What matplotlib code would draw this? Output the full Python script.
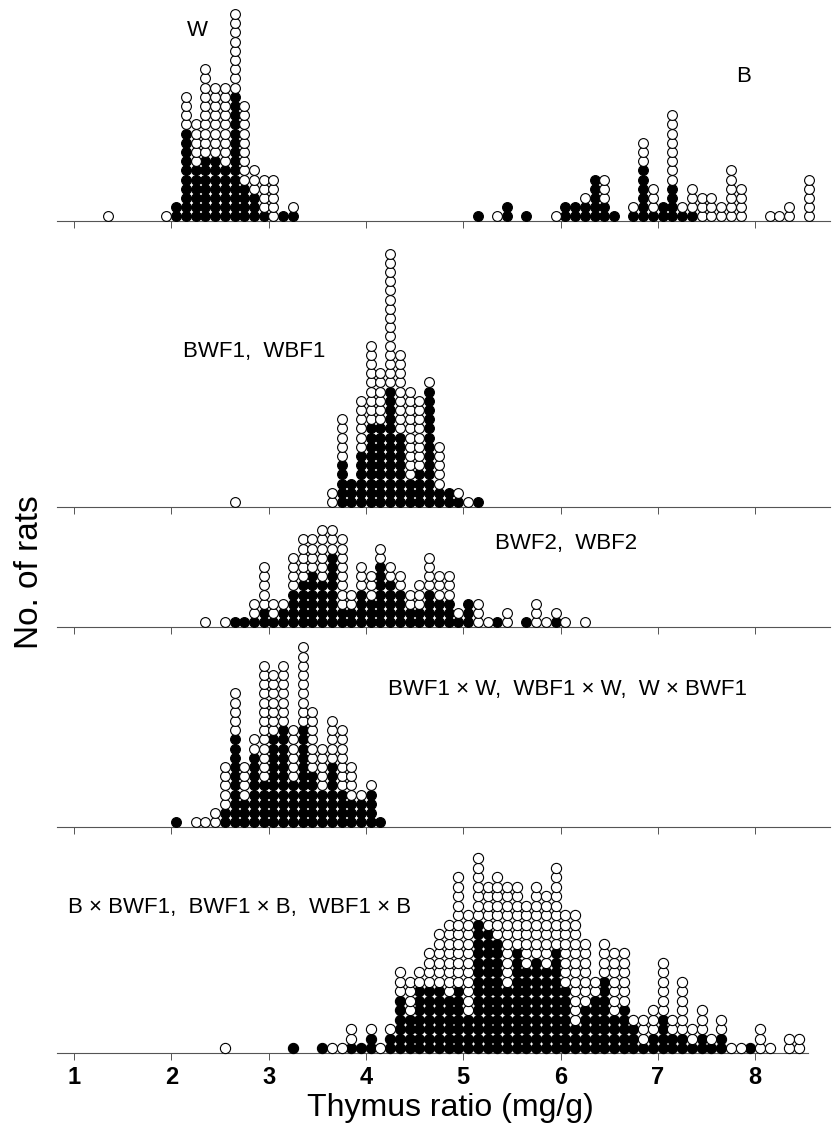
import matplotlib
matplotlib.use("Agg")
import matplotlib.pyplot as plt
import numpy as np

plt.rcParams["font.family"] = ["Liberation Sans", "DejaVu Sans"]

################################################################################
# data: one dot per rat, columns of 0.1 mg/g, black dots stacked below white

# panel 1, parental strains W and B
P1_X = [1.35, 1.95, 2.05, 2.15, 2.25, 2.35, 2.45, 2.55, 2.65, 2.75, 2.85, 2.95,
        3.05, 3.15, 3.25,
        5.15, 5.35, 5.45, 5.65, 5.95, 6.05, 6.15, 6.25, 6.35, 6.45, 6.55, 6.75,
        6.85, 6.95, 7.05, 7.15, 7.25, 7.35, 7.45, 7.55, 7.65, 7.75, 7.85, 8.15,
        8.25, 8.35, 8.55]
P1_BLACK = [0, 0, 2, 10, 6, 7, 7, 6, 14, 4, 3, 1, 0, 1, 1,
            1, 0, 2, 1, 0, 2, 2, 2, 5, 2, 1, 1, 6, 1, 2, 4, 1, 1, 0, 0, 0, 0, 0,
            0, 0, 0, 0]
P1_WHITE = [1, 1, 0, 4, 5, 10, 8, 9, 9, 9, 3, 4, 5, 0, 1,
            0, 1, 0, 0, 1, 0, 0, 1, 0, 3, 0, 1, 3, 3, 0, 8, 1, 3, 3, 3, 2, 6, 4,
            1, 1, 2, 5]

# panel 2, BWF1 / WBF1
P2_X = [2.65, 3.65, 3.75, 3.85, 3.95, 4.05, 4.15, 4.25, 4.35, 4.45, 4.55, 4.65,
        4.75, 4.85, 4.95, 5.05, 5.15]
P2_BLACK = [0, 0, 5, 3, 6, 9, 9, 13, 8, 3, 4, 13, 2, 2, 1, 0, 1]
P2_WHITE = [1, 2, 5, 0, 6, 9, 6, 15, 9, 10, 8, 1, 5, 0, 1, 1, 0]

# panel 3, BWF2 / WBF2
P3_X = [2.35, 2.55, 2.65, 2.75, 2.85, 2.95, 3.05, 3.15, 3.25, 3.35, 3.45, 3.55,
        3.65, 3.75, 3.85, 3.95, 4.05, 4.15, 4.25, 4.35, 4.45, 4.55, 4.65, 4.75,
        4.85, 4.95, 5.05, 5.15, 5.25, 5.35, 5.45, 5.65, 5.75, 5.85, 5.95, 6.05,
        6.25]
P3_BLACK = [0, 0, 1, 1, 1, 2, 1, 2, 4, 5, 6, 5, 8, 2, 2, 4, 3, 7, 5, 4, 2, 2,
            4, 3, 3, 1, 3, 0, 0, 1, 0, 1, 0, 0, 1, 0, 0]
P3_WHITE = [1, 1, 0, 0, 2, 5, 2, 1, 4, 5, 4, 6, 3, 8, 2, 3, 3, 2, 2, 2, 2, 3,
            4, 3, 3, 1, 0, 3, 1, 0, 2, 0, 3, 1, 1, 1, 1]

# panel 4, backcross to W
P4_X = [2.05, 2.25, 2.35, 2.45, 2.55, 2.65, 2.75, 2.85, 2.95, 3.05, 3.15, 3.25,
        3.35, 3.45, 3.55, 3.65, 3.75, 3.85, 3.95, 4.05, 4.15]
P4_BLACK = [1, 0, 0, 0, 2, 10, 3, 8, 5, 10, 11, 5, 11, 6, 4, 7, 4, 3, 3, 4, 1]
P4_WHITE = [0, 1, 1, 2, 5, 5, 4, 2, 13, 7, 7, 6, 9, 7, 5, 5, 7, 4, 1, 1, 0]

# panel 5, backcross to B
P5_X = [2.55, 3.25, 3.55, 3.65, 3.75, 3.85, 3.95, 4.05, 4.15, 4.25, 4.35, 4.45,
        4.55, 4.65, 4.75, 4.85, 4.95, 5.05, 5.15, 5.25, 5.35, 5.45, 5.55, 5.65,
        5.75, 5.85, 5.95, 6.05, 6.15, 6.25, 6.35, 6.45, 6.55, 6.65, 6.75, 6.85,
        6.95, 7.05, 7.15, 7.25, 7.35, 7.45, 7.55, 7.65, 7.75, 7.85, 7.95, 8.05,
        8.15, 8.35, 8.45]
P5_BLACK = [0, 1, 1, 0, 0, 1, 1, 2, 0, 2, 6, 4, 7, 7, 7, 6, 7, 4, 14, 13, 12,
            7, 11, 9, 10, 9, 11, 7, 3, 5, 6, 8, 4, 5, 3, 1, 2, 4, 2, 2, 1, 2, 1,
            2, 0, 0, 1, 0, 0, 0, 0]
P5_WHITE = [1, 0, 0, 1, 1, 2, 0, 1, 1, 1, 3, 4, 2, 4, 6, 8, 12, 11, 7, 5, 7,
            11, 7, 7, 8, 8, 9, 8, 12, 7, 2, 4, 7, 6, 1, 3, 3, 6, 2, 6, 2, 3, 1,
            2, 1, 1, 0, 3, 1, 2, 2]

TICKS = [1, 2, 3, 4, 5, 6, 7, 8]

################################################################################

W, H = 833, 1128
X0_PX, UNIT_PX = 74, 97.3  # pixel of x=1 and pixels per mg/g


def to_value(px):
    return 1 + (px - X0_PX) / UNIT_PX


def panel(top, baseline, right, row_px, left=57):
    ax = fig.add_axes([left / W, 1 - baseline / H, (right - left) / W,
                       (baseline - top) / H])
    ax.set_xlim(to_value(left), to_value(right))
    ax.set_ylim(0, (baseline - top) / row_px)
    for side in ["top", "left", "right"]:
        ax.spines[side].set_visible(False)
    ax.spines["bottom"].set_color("#555555")
    ax.spines["bottom"].set_linewidth(0.8)
    ax.set_yticks([])
    ax.set_xticks(TICKS)
    ax.tick_params(axis="x", direction="out", length=5, width=0.7,
                   color="#555555", labelbottom=False)
    ax.patch.set_alpha(0)
    return ax


def dots(ax, xs, black, white, size=50):
    bx, by, wx, wy = [], [], [], []
    for x, nb, nw in zip(xs, black, white):
        bx += [x] * nb
        by += list(np.arange(nb) + 0.5)
        wx += [x] * nw
        wy += list(np.arange(nb, nb + nw) + 0.5)
    ax.scatter(bx, by, s=size, c="black", edgecolors="black", linewidths=0.8,
               clip_on=False, zorder=3)
    ax.scatter(wx, wy, s=size, c="white", edgecolors="black", linewidths=0.8,
               clip_on=False, zorder=3)


def label(x, y, text, size=16, ha="center", **kw):
    fig.text(x / W, 1 - y / H, text, fontsize=size, ha=ha, va="center", **kw)


fig = plt.figure(figsize=(W / 100, H / 100), dpi=100)

ax1 = panel(5, 221, 830, 9.2)
dots(ax1, P1_X, P1_BLACK, P1_WHITE)

ax2 = panel(235, 506.5, 830, 9.2)
dots(ax2, P2_X, P2_BLACK, P2_WHITE)

ax3 = panel(515, 626.7, 830, 9.2)
dots(ax3, P3_X, P3_BLACK, P3_WHITE)

ax4 = panel(635, 826.7, 830, 9.2)
dots(ax4, P4_X, P4_BLACK, P4_WHITE)

ax5 = panel(845, 1053, 808, 9.5)
dots(ax5, P5_X, P5_BLACK, P5_WHITE, size=54)
ax5.tick_params(axis="x", labelbottom=True, labelsize=17, pad=4)
for t in ax5.get_xticklabels():
    t.set_fontweight("bold")

label(197, 31, "W")
label(744, 76, "B")
label(254, 352, "BWF1,  WBF1")
label(566, 544, "BWF2,  WBF2")
label(568, 690, "BWF1 \u00d7 W,  WBF1 \u00d7 W,  W \u00d7 BWF1")
label(240, 907, "B \u00d7 BWF1,  BWF1 \u00d7 B,  WBF1 \u00d7 B")

label(450, 1108, "Thymus ratio (mg/g)", size=23)
label(30, 572, "No. of rats", size=24, rotation=90)

fig.savefig("out.png", dpi=100)
